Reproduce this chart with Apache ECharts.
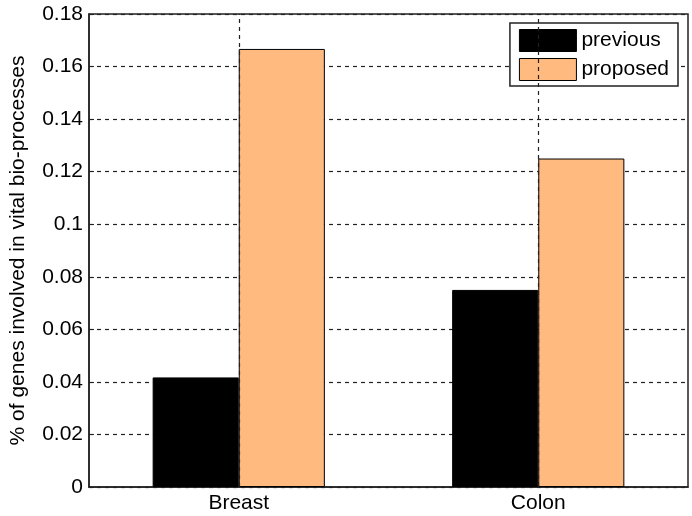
<!DOCTYPE html>
<html><head><meta charset="utf-8">
<script src="https://cdn.jsdelivr.net/npm/echarts@6/dist/echarts.min.js"></script>
<style>html,body{margin:0;padding:0;background:#fff}#c{width:692px;height:516px}</style>
</head><body><div id="c"></div>
<script>
const categories = ['Breast', 'Colon'];
const previousValues = [0.0417, 0.075];
const proposedValues = [0.1667, 0.125];
const yTicks = [0, 0.02, 0.04, 0.06, 0.08, 0.1, 0.12, 0.14, 0.16, 0.18];

const chart = echarts.init(document.getElementById('c'));
const font = 'Liberation Sans, Arial, sans-serif';
chart.setOption({
  animation: false,
  backgroundColor: '#fff',
  grid: { left: 86, right: 4, top: 14, bottom: 29, show: true, borderColor: '#222', borderWidth: 1.5, backgroundColor: 'transparent' },
  legend: {
    data: ['previous', 'proposed'],
    orient: 'vertical', right: 14, top: 23,
    icon: 'rect',
    itemWidth: 57, itemHeight: 22, itemGap: 6,
    backgroundColor: '#fff', borderColor: '#222', borderWidth: 1.5,
    padding: [6, 9, 5, 9],
    textStyle: { fontFamily: font, fontSize: 21, color: '#000' },
    itemStyle: { borderColor: '#000', borderWidth: 1 }
  },
  xAxis: [{
    type: 'category', data: categories,
    axisLine: { lineStyle: { color: '#222', width: 1.5 } },
    axisTick: { show: true, inside: true, alignWithLabel: true, length: 5, lineStyle: { color: '#222' } },
    axisLabel: { fontFamily: font, fontSize: 21, color: '#000', margin: 6 },
    splitLine: { show: false }
  }],
  yAxis: [{
    type: 'value', min: 0, max: 0.18, interval: 0.02,
    name: '% of genes involved in vital bio-processes',
    nameLocation: 'middle', nameGap: 60,
    nameTextStyle: { fontFamily: font, fontSize: 21, color: '#000' },
    axisLine: { show: true, lineStyle: { color: '#222', width: 1.5 } },
    axisTick: { show: true, inside: true, length: 5, lineStyle: { color: '#222' } },
    axisLabel: { fontFamily: font, fontSize: 21, color: '#000', margin: 6,
      formatter: v => { const t = yTicks.find(x => Math.abs(x - v) < 1e-9); return t === undefined ? '' : String(+t.toFixed(2)); } },
    splitLine: { show: true, lineStyle: { color: '#222', type: [4, 4], width: 1.2 } }
  }],
  series: [
    { type: 'line', name: 'guide', data: [], silent: true, z: 1,
      markLine: { silent: true, symbol: 'none', label: { show: false },
        lineStyle: { color: '#222', type: [4, 4], width: 1.2 },
        data: categories.map(c => ({ xAxis: c })) } },
    { type: 'bar', name: 'previous', data: previousValues, z: 3,
      barGap: '0%', barCategoryGap: '42.5%',
      itemStyle: { color: '#000', borderColor: '#000', borderWidth: 1 } },
    { type: 'bar', name: 'proposed', data: proposedValues, z: 3,
      barGap: '0%', barCategoryGap: '42.5%',
      itemStyle: { color: '#FFBA80', borderColor: '#000', borderWidth: 1 } }
  ]
});
</script></body></html>
